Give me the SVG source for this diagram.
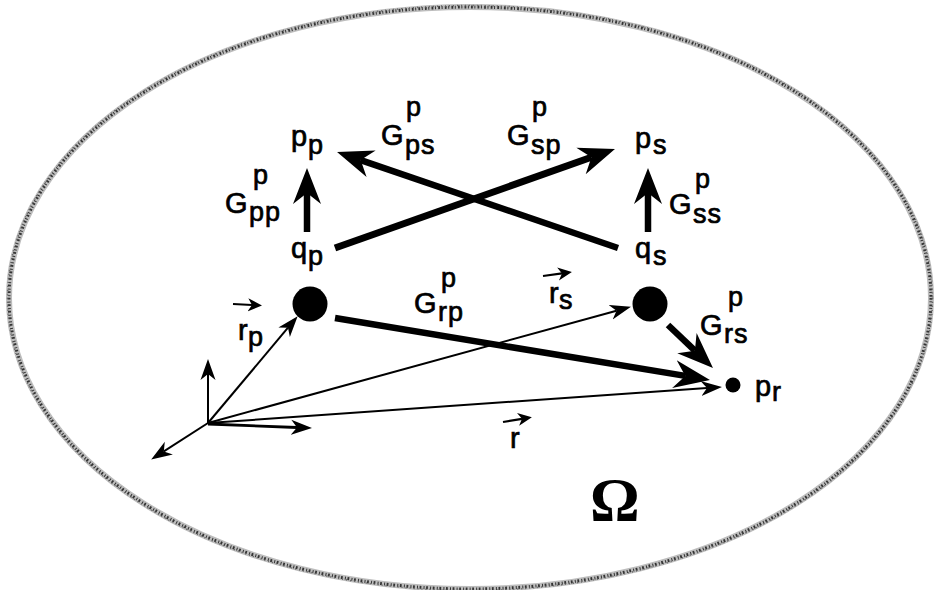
<svg xmlns="http://www.w3.org/2000/svg" width="935" height="590" viewBox="0 0 935 590">
<style>
.t{font-family:"Liberation Sans",Arial,sans-serif;font-size:29px;fill:#000;stroke:#000;stroke-width:0.7}
.s{font-size:27px;letter-spacing:1px}
.om{font-family:"Liberation Serif","Times New Roman",serif;font-size:62px;font-weight:bold;fill:#000}
.thick{stroke:#000;stroke-width:6.5;fill:none;marker-end:url(#ah)}
.thin{stroke:#000;stroke-width:2;fill:none;marker-end:url(#at)}
.vec{stroke:#000;stroke-width:2.2;fill:none;marker-end:url(#as)}
</style>
<defs>
<marker id="ah" viewBox="0 -16 40 32" refX="11" refY="0" markerWidth="40" markerHeight="32" markerUnits="userSpaceOnUse" orient="auto"><path d="M36,0 L0,-14 L11,0 L0,14 Z" fill="#000"/></marker>
<marker id="at" viewBox="0 -9 23 18" refX="6" refY="0" markerWidth="23" markerHeight="18" markerUnits="userSpaceOnUse" orient="auto"><path d="M21,0 L0,-7.5 L6,0 L0,7.5 Z" fill="#000"/></marker>
<marker id="as" viewBox="0 -8 16 16" refX="4" refY="0" markerWidth="16" markerHeight="16" markerUnits="userSpaceOnUse" orient="auto"><path d="M14,0 L0,-6.5 L4,0 L0,6.5 Z" fill="#000"/></marker>
</defs>
<rect width="935" height="590" fill="#fff"/>
<g id="domain">
<ellipse cx="470" cy="298" rx="461" ry="291" fill="none" stroke="#bdbdbd" stroke-width="6"/>
<ellipse cx="470" cy="298" rx="461" ry="291" fill="none" stroke="#333" stroke-width="3" stroke-dasharray="1.8 1.6 1 2.2"/>
<ellipse cx="470" cy="298" rx="462.5" ry="292.5" fill="none" stroke="#666" stroke-width="1.5" stroke-dasharray="1 3"/>
<text class="om" x="590" y="520">Ω</text>
</g>
<g id="connectors">
<line class="thick" x1="307" y1="232" x2="307" y2="193"/>
<line class="thick" x1="648" y1="232" x2="648" y2="193"/>
<line class="thick" x1="335" y1="248" x2="591.4" y2="157.3" style="stroke-width:7"/>
<line class="thick" x1="618" y1="248" x2="360.7" y2="160.1"/>
<line class="thick" x1="335" y1="318" x2="685.3" y2="375.9"/>
<line class="thick" x1="668" y1="325" x2="694.9" y2="350.7"/>
<line class="thin" x1="208" y1="423" x2="288" y2="327.7"/>
<line class="thin" x1="208" y1="423" x2="616.5" y2="310.7"/>
<line class="thin" x1="208" y1="423" x2="707" y2="388"/>
<line class="thin" x1="208" y1="423" x2="208" y2="374"/>
<line class="thin" x1="208" y1="424" x2="297" y2="427.5" style="stroke-width:2.8"/>
<line class="thin" x1="208" y1="423" x2="163.8" y2="451.4"/>
</g>
<g id="pp"><text class="t"><tspan x="291" y="146">p</tspan><tspan class="s" x="308" y="154">p</tspan></text></g>
<g id="ps"><text class="t"><tspan x="635" y="148">p</tspan><tspan class="s" x="653" y="154">s</tspan></text></g>
<g id="qp"><text class="t"><tspan x="291" y="258">q</tspan><tspan class="s" x="308" y="265">p</tspan></text></g>
<g id="qs"><text class="t"><tspan x="635" y="258">q</tspan><tspan class="s" x="653" y="265">s</tspan></text></g>
<g id="Gpp"><text class="t"><tspan x="225" y="213">G</tspan><tspan class="s" x="253" y="184">p</tspan><tspan class="s" x="249" y="221">pp</tspan></text></g>
<g id="Gss"><text class="t"><tspan x="669" y="214">G</tspan><tspan class="s" x="695" y="188">p</tspan><tspan class="s" x="693" y="223">ss</tspan></text></g>
<g id="Gps"><text class="t"><tspan x="381" y="145">G</tspan><tspan class="s" x="406" y="116">p</tspan><tspan class="s" x="405" y="154">ps</tspan></text></g>
<g id="Gsp"><text class="t"><tspan x="507" y="145">G</tspan><tspan class="s" x="532" y="116">p</tspan><tspan class="s" x="531" y="154">sp</tspan></text></g>
<g id="Grp"><text class="t"><tspan x="414" y="313">G</tspan><tspan class="s" x="441" y="287">p</tspan><tspan class="s" x="438" y="321">rp</tspan></text></g>
<g id="Grs"><text class="t"><tspan x="700" y="335">G</tspan><tspan class="s" x="728" y="306">p</tspan><tspan class="s" x="724" y="343">rs</tspan></text></g>
<g id="source-p"><circle cx="310" cy="304" r="17.5" fill="#000"/></g>
<g id="source-s"><circle cx="650" cy="304" r="17.5" fill="#000"/></g>
<g id="receiver"><circle cx="733" cy="385" r="7.5" fill="#000"/><text class="t"><tspan x="755" y="396">p</tspan><tspan class="s" x="772" y="401">r</tspan></text></g>
<g id="rp"><line class="vec" x1="233" y1="304" x2="252" y2="305"/><text class="t"><tspan x="238" y="340">r</tspan><tspan class="s" x="248" y="346">p</tspan></text></g>
<g id="rs"><line class="vec" x1="543" y1="276" x2="562" y2="273.4"/><text class="t"><tspan x="549" y="303">r</tspan><tspan class="s" x="559" y="309">s</tspan></text></g>
<g id="r"><line class="vec" x1="503" y1="422" x2="522" y2="418.8"/><text class="t"><tspan x="510" y="448">r</tspan></text></g>
</svg>
